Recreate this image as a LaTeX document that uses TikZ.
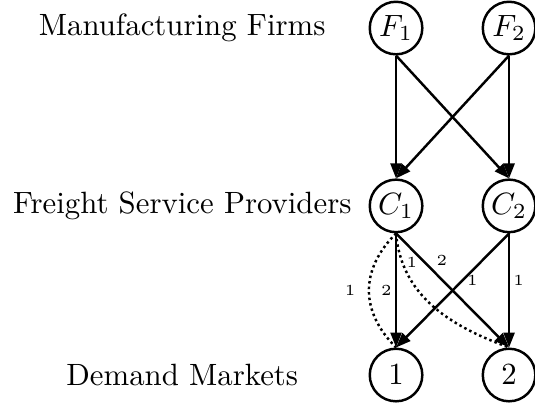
\documentclass[tikz,border=0pt]{standalone}
\usepackage{amsmath}
\usetikzlibrary{arrows.meta,positioning}

\begin{document}
\begin{tikzpicture}[
  font=\normalsize,
  agent/.style={draw, thick, circle, minimum size=6mm, inner sep=0pt},
  tier/.style={align=center},
  arrow/.style={-{Triangle[length=1.7mm, width=1.25mm]}, thick},
  route/.style={thick, densely dotted},
  share/.style={font=\tiny, inner sep=1pt}]
\useasboundingbox (-45.2mm,-43.47mm) rectangle (15.86mm,3.2mm);
\node[agent] (f1) at (0,0) {$F_1$};
\node[agent, on grid, right=12.9mm of f1] (f2) {$F_2$};
\node[agent, on grid, below=20.3mm of f1] (c1) {$C_1$};
\node[agent, on grid, below=20.3mm of f2] (c2) {$C_2$};
\node[agent, on grid, below=19.3mm of c1] (m1) {$1$};
\node[agent, on grid, below=19.3mm of c2] (m2) {$2$};
\node[tier, on grid, left=24.4mm of f1] (tfirm)   {Manufacturing Firms};
\node[tier, on grid, left=24.4mm of c1] (tfreight) {Freight Service Providers};
\node[tier, on grid, left=24.4mm of m1] (tmarket)  {Demand Markets};
% firms to carriers
\draw[arrow] (f1.south) -- (c1.north);
\draw[arrow] (f1.south) -- (c2.north);
\draw[arrow] (f2.south) -- (c1.north);
\draw[arrow] (f2.south) -- (c2.north);
% carriers to markets, dotted = second mode
\draw[arrow] (c1.south) -- node[share, left, pos=0.5] {2} (m1.north);
\draw[route] (c1.south) to[bend right=45, looseness=1.15]
   node[share, left=3pt] {1} (m1.north);
\draw[arrow] (c1.south) -- node[share, above right, pos=0.32] {2} (m2.north);
\draw[route] (c1.south) to[out=-85, in=160]
   node[share, right, pos=0.17] {1} (m2.north);
\draw[arrow] (c2.south) -- node[share, right, pos=0.41] {1} (m1.north);
\draw[arrow] (c2.south) -- node[share, right, pos=0.41] {1} (m2.north);
\end{tikzpicture}
\end{document}
